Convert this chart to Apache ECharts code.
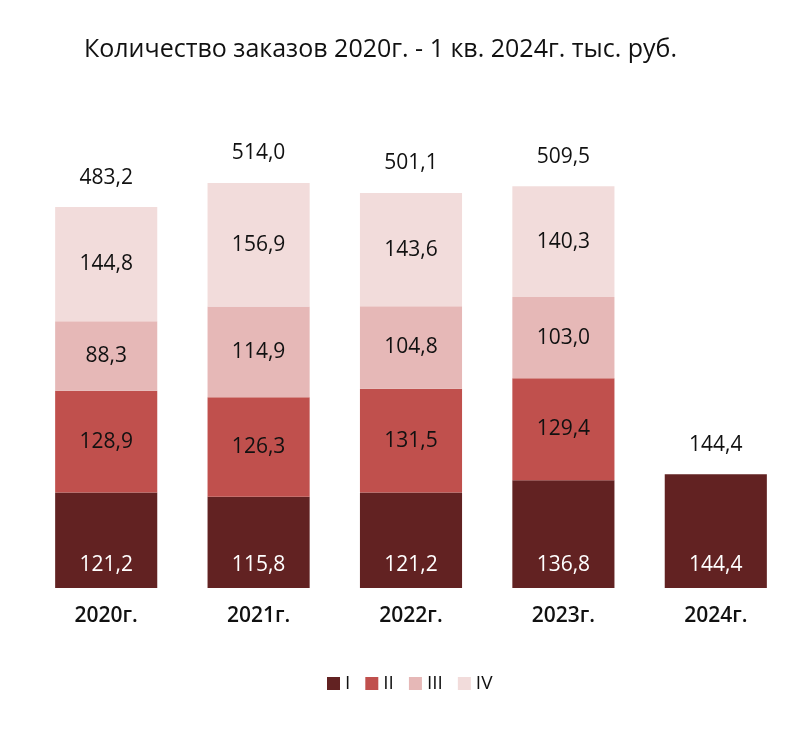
<!DOCTYPE html>
<html>
<head>
<meta charset="utf-8">
<script src="https://cdn.jsdelivr.net/npm/echarts@6/dist/echarts.min.js"></script>
<style>
  html, body { margin: 0; padding: 0; background: #fff; }
  #chart { width: 803px; height: 731px; }
</style>
</head>
<body>
<div id="chart"></div>
<script>
// данные
var years = ["2020г.", "2021г.", "2022г.", "2023г.", "2024г."];
var q1 = [121.2, 115.8, 121.2, 136.8, 144.4];
var q2 = [128.9, 126.3, 131.5, 129.4, null];
var q3 = [88.3, 114.9, 104.8, 103.0, null];
var q4 = [144.8, 156.9, 143.6, 140.3, null];
var totals = [483.2, 514.0, 501.1, 509.5, 144.4];
var quarterNames = ["I", "II", "III", "IV"];
var quarterColors = ["#622222", "#c0504d", "#e6b8b7", "#f2dcdb"];

var font = "'Open Sans', 'Noto Sans', sans-serif";

function fmt(v) {
    return v.toFixed(1).replace(".", ",");
}

function makeSeries(name, data, color, labelColor, pos) {
    return {
        name: name,
        type: "bar",
        stack: "total",
        barWidth: "67%",
        data: data,
        itemStyle: { color: color },
        label: {
            show: true,
            position: pos,
            distance: 12,
            color: labelColor,
            fontSize: 21,
            fontFamily: font,
            formatter: function(p) { return fmt(p.value); }
        }
    };
}

var chart = echarts.init(document.getElementById("chart"));
chart.setOption({
    animation: false,
    title: {
        text: "Количество заказов 2020г. - 1 кв. 2024г. тыс. руб.",
        left: 79,
        top: 32,
        textStyle: { fontSize: 25, fontWeight: "normal", color: "#111", fontFamily: font }
    },
    legend: {
        data: quarterNames,
        bottom: 33,
        left: 322,
        itemWidth: 13,
        itemHeight: 13,
        itemGap: 15,
        icon: "rect",
        textStyle: { fontSize: 19, color: "#111", fontFamily: font }
    },
    grid: { left: 30, right: 11, top: 115, bottom: 143 },
    xAxis: {
        type: "category",
        data: years,
        axisLine: { show: false },
        axisTick: { show: false },
        axisLabel: { fontSize: 21, fontWeight: 600, color: "#111", margin: 18, fontFamily: font }
    },
    yAxis: {
        type: "value",
        min: 0,
        max: 600,
        show: false,
        splitLine: { show: false }
    },
    series: [
        makeSeries(quarterNames[0], q1, quarterColors[0], "#fff", "insideBottom"),
        makeSeries(quarterNames[1], q2, quarterColors[1], "#111", "inside"),
        makeSeries(quarterNames[2], q3, quarterColors[2], "#111", "inside"),
        makeSeries(quarterNames[3], q4, quarterColors[3], "#111", "inside"),
        {
            name: "total",
            type: "scatter",
            data: totals,
            symbolSize: 0,
            itemStyle: { color: "#111", opacity: 0 },
            label: {
                show: true,
                position: "top",
                distance: 19,
                color: "#111",
                opacity: 1,
                textBorderWidth: 0,
                fontSize: 21,
                fontFamily: font,
                formatter: function(p) { return fmt(p.value); }
            }
        }
    ]
});
</script>
</body>
</html>
